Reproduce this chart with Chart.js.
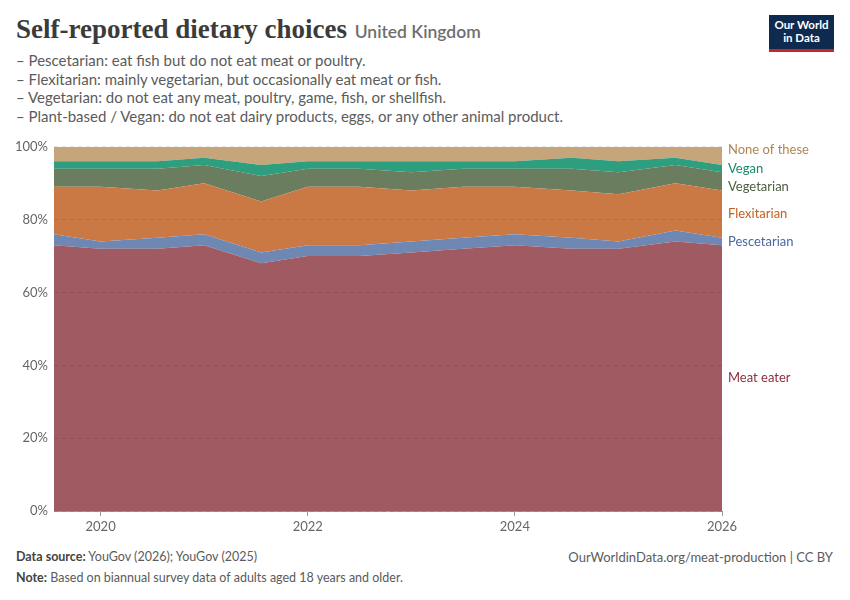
<!DOCTYPE html>
<html>
<head>
<meta charset="utf-8">
<script src="https://cdn.jsdelivr.net/npm/chart.js@4.4.1/dist/chart.umd.min.js"></script>
<style>
  body { margin: 0; background: #fff; font-family: Lato, "Noto Sans", sans-serif; }
  #wrap { position: relative; width: 850px; height: 600px; overflow: hidden; }
  .abs { position: absolute; white-space: nowrap; }
  #title { left: 16px; top: 14px; font-family: "Liberation Serif", "DejaVu Serif", serif; font-weight: bold; font-size: 27px; color: #3b3b3b; }
  #title span { font-family: Lato, sans-serif; font-weight: 600; font-size: 17.5px; color: #6e6e6e; margin-left: 1px; }
  #sub { left: 16px; top: 51px; font-size: 15px; line-height: 18.5px; color: #5b5b5b; }
  #logo { left: 769px; top: 15px; width: 65px; background: #0f2a4f; border-bottom: 3px solid #c5282b; color: #fff; font-size: 11.5px; font-weight: bold; line-height: 13px; text-align: center; padding-top: 3px; box-sizing: border-box; height: 37px; }
  #chartBox { position: absolute; left: 0; top: 133px; width: 850px; height: 407px; }
  .foot { font-size: 12.5px; color: #5b5b5b; }
  .foot b { color: #444; font-weight: 700; }
</style>
</head>
<body>
<div id="wrap">
  <div id="title" class="abs">Self-reported dietary choices <span>United Kingdom</span></div>
  <div id="sub" class="abs">
    – Pescetarian: eat fish but do not eat meat or poultry.<br>
    – Flexitarian: mainly vegetarian, but occasionally eat meat or fish.<br>
    – Vegetarian: do not eat any meat, poultry, game, fish, or shellfish.<br>
    – Plant-based / Vegan: do not eat dairy products, eggs, or any other animal product.
  </div>
  <div id="logo" class="abs">Our World<br>in Data</div>
  <div id="chartBox"><canvas id="dietChart"></canvas></div>
  <div class="abs foot" style="left:16px; top:549px;"><b>Data source:</b> YouGov (2026); YouGov (2025)</div>
  <div class="abs foot" style="right:17px; top:549px; font-size:13px;">OurWorldinData.org/meat-production | CC BY</div>
  <div class="abs foot" style="left:16px; top:570px;"><b>Note:</b> Based on biannual survey data of adults aged 18 years and older.</div>
</div>
<script>
// survey dates as decimal years
const years = [2019.55, 2020.0, 2020.55, 2021.0, 2021.55, 2022.0, 2022.5, 2023.0, 2023.5, 2024.0, 2024.55, 2025.0, 2025.55, 2026.0];
const yearTicks = [2020, 2022, 2024, 2026];
const yTicks = [0, 20, 40, 60, 80, 100];

// shares of respondents, %
const meatEater   = [73, 72, 72, 73, 68, 70, 70, 71, 72, 73, 72, 72, 74, 73];
const pescetarian = [3, 2, 3, 3, 3, 3, 3, 3, 3, 3, 3, 2, 3, 2];
const flexitarian = [13, 15, 13, 14, 14, 16, 16, 14, 14, 13, 13, 13, 13, 13];
const vegetarian  = [5, 5, 6, 5, 7, 5, 5, 5, 5, 5, 6, 6, 5, 5];
const vegan       = [2, 2, 2, 2, 3, 2, 2, 3, 2, 2, 3, 3, 2, 2];
const noneOfThese = [4, 4, 4, 3, 5, 4, 4, 4, 4, 4, 3, 4, 3, 5];

const series = [
    { name: 'Meat eater',    values: meatEater,   fill: '#a05a62', text: '#8b2f3c' },
    { name: 'Pescetarian',   values: pescetarian, fill: '#6e87b3', text: '#4a67a0' },
    { name: 'Flexitarian',   values: flexitarian, fill: '#cb7944', text: '#c25e1f' },
    { name: 'Vegetarian',    values: vegetarian,  fill: '#6a7d5f', text: '#4a5e3e' },
    { name: 'Vegan',         values: vegan,       fill: '#2d9e7e', text: '#17896a' },
    { name: 'None of these', values: noneOfThese, fill: '#c6a57a', text: '#b08552' }
];

// end-of-line labels, spread apart when they collide
const endLabels = {
    id: 'endLabels',
    afterDatasetsDraw(chart) {
        const ctx = chart.ctx;
        const yScale = chart.scales.y;
        const area = chart.chartArea;
        const last = years.length - 1;
        let base = 0;
        const items = series.map(s => {
            const v = s.values[last];
            const y = yScale.getPixelForValue(base + v / 2);
            base += v;
            return { s: s, y: y };
        });
        items.sort((a, b) => a.y - b.y);
        const gap = 18.5;
        // merge overlapping labels into groups centred on their mean
        let groups = items.map(it => ({ items: [it], center: it.y }));
        let moved = true;
        while (moved) {
            moved = false;
            for (let i = 0; i < groups.length - 1; i++) {
                const a = groups[i], b = groups[i + 1];
                const aBottom = a.center + (a.items.length - 1) * gap / 2;
                const bTop = b.center - (b.items.length - 1) * gap / 2;
                if (bTop - aBottom < gap) {
                    const all = a.items.concat(b.items);
                    const mean = all.reduce((t, it) => t + it.y, 0) / all.length;
                    groups.splice(i, 2, { items: all, center: mean });
                    moved = true;
                    break;
                }
            }
        }
        ctx.save();
        ctx.font = '13px Lato, sans-serif';
        ctx.textBaseline = 'middle';
        groups.forEach(g => {
            const top = g.center - (g.items.length - 1) * gap / 2;
            g.items.forEach((it, k) => {
                ctx.fillStyle = it.s.text;
                ctx.fillText(it.s.name, area.right + 6, top + k * gap);
            });
        });
        ctx.restore();
    }
};

const ctx = document.getElementById('dietChart').getContext('2d');
const chart = new Chart(ctx, {
    type: 'line',
    data: {
        labels: years,
        datasets: series.map((s, i) => ({
            label: s.name,
            data: s.values.map((v, j) => ({ x: years[j], y: v })),
            backgroundColor: s.fill,
            borderColor: s.fill,
            borderWidth: 0,
            pointRadius: 0,
            tension: 0,
            fill: i === 0 ? 'origin' : '-1'
        }))
    },
    options: {
        responsive: true,
        maintainAspectRatio: false,
        animation: false,
        layout: { padding: { top: 10, right: 128, left: 0, bottom: 0 } },
        plugins: {
            legend: { display: false },
            tooltip: { enabled: false }
        },
        scales: {
            x: {
                type: 'linear',
                min: years[0],
                max: years[years.length - 1],
                afterBuildTicks: scale => { scale.ticks = yearTicks.map(v => ({ value: v })); },
                afterFit: scale => { scale.height = 29; },
                ticks: {
                    color: '#666',
                    font: { family: 'Lato', size: 13 },
                    padding: 3,
                    maxRotation: 0,
                    callback: v => String(v)
                },
                grid: { drawOnChartArea: false, color: '#999', tickLength: 5 },
                border: { display: true, color: '#999' }
            },
            y: {
                stacked: true,
                min: 0,
                max: 100,
                afterBuildTicks: scale => { scale.ticks = yTicks.map(v => ({ value: v })); },
                afterFit: scale => { scale.width = 54; },
                ticks: {
                    color: '#666',
                    font: { family: 'Lato', size: 13 },
                    padding: 6,
                    callback: v => v + '%'
                },
                grid: { color: 'rgba(0,0,0,0.10)', drawTicks: false, z: 1 },
                border: { display: false, dash: [4, 4] }
            }
        }
    },
    plugins: [endLabels]
});
</script>
</body>
</html>
